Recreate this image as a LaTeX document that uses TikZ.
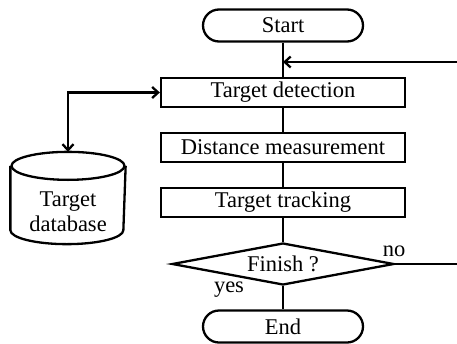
\documentclass[tikz,border=0pt]{standalone}
\usepackage{fontspec}
\setmainfont{Liberation Serif}
\usetikzlibrary{shapes.geometric,shapes.misc,arrows.meta}
\begin{document}
\begin{tikzpicture}[x=1pt,y=-1pt, line width=2.3pt,
  font=\fontsize{22.5}{25}\selectfont,
  proc/.style={draw, rectangle, minimum width=244pt, minimum height=29pt, inner sep=0pt},
  term/.style={draw, rounded rectangle, minimum width=160pt, minimum height=32pt, inner sep=0pt},
  dec/.style={draw, diamond, aspect=5.3, minimum width=222pt, minimum height=42pt, inner sep=0pt},
  tip/.tip={Straight Barb[length=6pt,width=11pt]},
  arr/.style={-tip},
  lbl/.style={inner sep=0pt}]
\useasboundingbox (0,0) rectangle (457,343);
\node[term] (start) at (283,25.5) {Start};
\node[proc] (det) at (283,92.5) {Target detection};
\node[proc] (dist) at (283,147.5) {Distance measurement};
\node[proc] (trk) at (283,202.5) {Target tracking};
\node[dec] (fin) at (283,264) {Finish ?};
\node[term] (end) at (283,326.5) {End};
% database cylinder
\node[minimum width=113pt, minimum height=90pt, inner sep=0pt] (db) at (68,198) {};
\node[align=center, inner sep=0pt] (dbtext) at (68,212) {Target\\database};
\draw ([yshift=-14pt]db.north west) -- ([yshift=14pt]db.south west)
  arc[start angle=180, end angle=360, x radius=56.5pt, y radius=14pt]
  -- ([yshift=-14pt]db.north east);
\draw ([yshift=-14pt]db.north) ellipse[x radius=56.5pt, y radius=14pt];
% coordinates
\coordinate (fb) at (283,62);
\coordinate (rc) at (459,264);
% connectors
\draw (start.south) -- (det.north);
\draw (det.south) -- (dist.north);
\draw (dist.south) -- (trk.north);
\draw (trk.south) -- (fin.north);
\draw (fin.south) -- (end.north);
\draw[arr] (fin.east) -- (rc) |- (fb);
\draw[tip-tip] (db.north) |- (det.west);
% labels
\node[lbl] (no) at (394,251) {no};
\node[lbl] (yes) at (229,290) {yes};
\end{tikzpicture}
\end{document}
